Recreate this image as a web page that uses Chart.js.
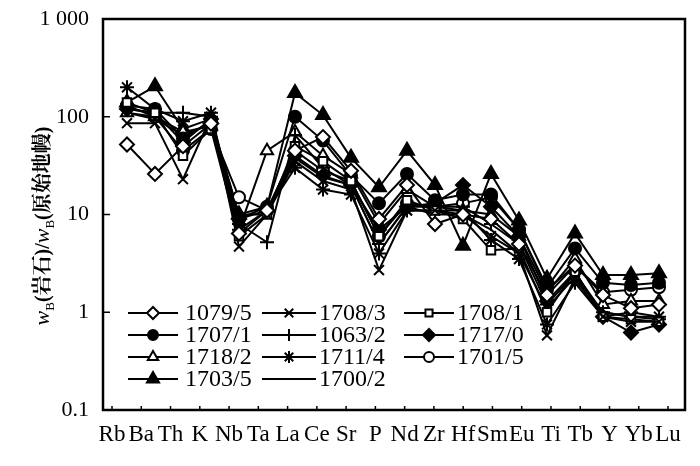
<!DOCTYPE html>
<html><head><meta charset="utf-8">
<script src="https://cdn.jsdelivr.net/npm/chart.js@4/dist/chart.umd.min.js"></script>
<style>html,body{margin:0;padding:0;background:#fff}#wrap{width:700px;height:466px}</style>
</head><body><div id="wrap"><canvas id="c" width="700" height="466"></canvas></div>
<script>
const categories = ['Rb','Ba','Th','K','Nb','Ta','La','Ce','Sr','P','Nd','Zr','Hf','Sm','Eu','Ti','Tb','Y','Yb','Lu'];
const yTickValues = [0.1, 1, 10, 100, 1000];
const yTickLabels = ['0.1', '1', '10', '100', '1 000'];
const seriesNames = ['1079/5','1708/3','1708/1','1707/1','1063/2','1717/0','1718/2','1711/4','1701/5','1703/5','1700/2'];
const s1079_5 = [52, 26, 50, 85, 6.4, 11, 45, 62, 28, 9, 20, 8, 10, 9, 5, 1.5, 3, 1.5, 1.1, 1.2];
const s1708_3 = [86, 86, 23, 100, 4.7, 10, 35, 22, 18, 2.7, 11, 11, 10, 6, 4, 0.58, 2.2, 0.9, 0.8, 0.8];
const s1708_1 = [140, 110, 40, 75, 6, 10, 50, 35, 22, 6, 14, 11, 9, 4.3, 4.5, 1.0, 2.6, 0.9, 0.85, 0.8];
const s1707_1 = [130, 120, 60, 90, 9, 12, 100, 57, 25, 13, 26, 14, 16, 16, 7, 1.8, 4.5, 2.0, 1.9, 2.0];
const s1063_2 = [120, 110, 110, 100, 8, 5.2, 65, 30, 20, 5, 12, 12, 12, 8, 5, 1.2, 2.5, 1.0, 0.9, 0.85];
const s1717_0 = [120, 110, 55, 95, 9, 11, 40, 25, 20, 7, 12, 13, 20, 12, 6, 1.3, 2.6, 0.9, 0.62, 0.75];
const s1718_2 = [110, 100, 70, 80, 7, 45, 70, 40, 26, 8, 18, 12, 11, 10, 6, 1.6, 3.5, 1.2, 1.3, 1.3];
const s1711_4 = [200, 120, 90, 110, 7, 11, 30, 18, 16, 4, 11, 11, 11, 5.5, 3.5, 0.75, 2, 0.9, 1.0, 0.9];
const s1701_5 = [130, 100, 45, 75, 15, 11, 45, 28, 22, 6, 13, 12, 13, 15, 7, 1.7, 3, 1.6, 1.7, 1.8];
const s1703_5 = [140, 205, 75, 95, 10, 12, 175, 104, 38, 19, 45, 20, 4.8, 26, 8.7, 2.2, 6.4, 2.4, 2.4, 2.5];
const s1700_2 = [110, 95, 65, 85, 10, 10, 38, 24, 20, 5, 12, 10, 10, 7, 4, 1.1, 2.3, 1.0, 0.9, 0.9];
const seriesValues = [s1079_5, s1708_3, s1708_1, s1707_1, s1063_2, s1717_0, s1718_2, s1711_4, s1701_5, s1703_5, s1700_2];

const styles = [
  {ps:'rectRot', fill:'#fff', r:7},
  {ps:'crossRot', fill:'#000', r:7},
  {ps:'rect', fill:'#fff', r:6},
  {ps:'circle', fill:'#000', r:6},
  {ps:'cross', fill:'#000', r:7},
  {ps:'rectRot', fill:'#000', r:7},
  {ps:'triangle', fill:'#fff', r:7},
  {ps:'star', fill:'#000', r:7},
  {ps:'circle', fill:'#fff', r:6},
  {ps:'triangle', fill:'#000', r:8},
  {ps:false, fill:'#000', r:0}
];

const datasets = seriesNames.map((n, k) => ({
  label: n,
  data: seriesValues[k].map((v, i) => ({x: i, y: v})),
  xAxisID: 'x', yAxisID: 'y',
  borderColor: '#000', borderWidth: 2,
  backgroundColor: styles[k].fill,
  pointStyle: styles[k].ps,
  pointRadius: styles[k].r,
  pointBorderColor: '#000',
  pointBackgroundColor: styles[k].fill,
  pointBorderWidth: 2,
  tension: 0
}));

const SERIF = "'Liberation Serif', 'Times New Roman', serif";

const framePlugin = {
  id: 'frame',
  afterDraw(chart) {
    const {ctx, chartArea: a} = chart;
    ctx.save();
    ctx.strokeStyle = '#000';
    ctx.lineWidth = 2.5;
    ctx.strokeRect(a.left, a.top, a.right - a.left, a.bottom - a.top);
    ctx.lineWidth = 1.5;
    const x2 = chart.scales.x2;
    x2.ticks.forEach(t => {
      const px = x2.getPixelForValue(t.value);
      ctx.beginPath(); ctx.moveTo(px, a.bottom); ctx.lineTo(px, a.bottom - 4); ctx.stroke();
    });
    const y = chart.scales.y;
    yTickValues.forEach(v => {
      const py = y.getPixelForValue(v);
      ctx.beginPath(); ctx.moveTo(a.left, py); ctx.lineTo(a.left + 7, py); ctx.stroke();
    });
    ctx.restore();
  }
};

const legendPlugin = {
  id: 'customLegend',
  afterDatasetsDraw(chart) {
    const {ctx} = chart;
    const cols = [{l0:128, l1:178, tx:185}, {l0:262, l1:316, tx:319}, {l0:404, l1:454, tx:457}];
    const rows = [313, 335, 357, 379];
    ctx.save();
    chart.data.datasets.forEach((ds, k) => {
      const c = cols[k % 3], y = rows[Math.floor(k / 3)];
      ctx.strokeStyle = '#000'; ctx.lineWidth = 2;
      ctx.beginPath(); ctx.moveTo(c.l0, y); ctx.lineTo(c.l1, y); ctx.stroke();
      if (ds.pointStyle) {
        ctx.fillStyle = ds.pointBackgroundColor; ctx.strokeStyle = '#000'; ctx.lineWidth = 2;
        Chart.helpers.drawPoint(ctx, {pointStyle: ds.pointStyle, radius: ds.pointRadius - 1, rotation: 0, borderWidth: 2}, (c.l0 + c.l1) / 2, y);
      }
      ctx.fillStyle = '#000';
      ctx.font = '24px ' + SERIF;
      ctx.textBaseline = 'middle'; ctx.textAlign = 'left';
      ctx.fillText(ds.label, c.tx, y + 1);
    });
    ctx.restore();
  }
};

const yTitlePlugin = {
  id: 'yTitle',
  afterDraw(chart) {
    const {ctx} = chart;
    const cjk = "bold 20px 'Liberation Serif', 'Noto Serif CJK SC', 'Noto Sans CJK SC', serif";
    const segs = [
      {t:'w', f:'italic 22px ' + SERIF, dy:0},
      {t:'B', f:'13px ' + SERIF, dy:5},
      {t:'(岩石)/', f:cjk, dy:0},
      {t:'w', f:'italic 22px ' + SERIF, dy:0},
      {t:'B', f:'13px ' + SERIF, dy:5},
      {t:'(原始地幔)', f:cjk, dy:0}
    ];
    ctx.save();
    let total = 0;
    segs.forEach(s => { ctx.font = s.f; s.w = ctx.measureText(s.t).width; total += s.w; });
    ctx.translate(42, 226);
    ctx.rotate(-Math.PI / 2);
    ctx.fillStyle = '#000';
    ctx.textBaseline = 'alphabetic'; ctx.textAlign = 'left';
    let x = -total / 2;
    segs.forEach(s => { ctx.font = s.f; ctx.fillText(s.t, x, 7 + s.dy); x += s.w; });
    ctx.restore();
  }
};

new Chart(document.getElementById('c'), {
  type: 'line',
  data: {datasets},
  plugins: [framePlugin, legendPlugin, yTitlePlugin],
  options: {
    responsive: false,
    animation: false,
    events: [],
    layout: {padding: {top: 19, right: 15, left: 0, bottom: 0}},
    plugins: {legend: {display: false}, tooltip: {enabled: false}},
    scales: {
      x: {type: 'linear', min: -0.857, max: 19.929, display: false},
      x2: {
        type: 'linear', position: 'bottom', min: -0.3076, max: 19.58,
        afterBuildTicks: s => { s.ticks = categories.map((c, i) => ({value: i})); },
        afterFit: s => { s.height = 56; s.paddingLeft = 0; s.paddingRight = 0; },
        ticks: {callback: v => categories[v], autoSkip: false, maxRotation: 0, minRotation: 0,
                font: {family: SERIF, size: 23}, color: '#000', padding: 11},
        grid: {display: false, drawTicks: false},
        border: {display: false}
      },
      y: {
        type: 'logarithmic', min: 0.1, max: 1000,
        afterBuildTicks: s => { s.ticks = yTickValues.map(v => ({value: v})); },
        afterFit: s => { s.width = 103; s.paddingTop = 0; s.paddingBottom = 0; },
        ticks: {callback: v => yTickLabels[yTickValues.indexOf(v)], font: {family: SERIF, size: 22}, color: '#000', padding: 14, autoSkip: false},
        grid: {display: false, drawTicks: false},
        border: {display: false}
      }
    }
  }
});
</script></body></html>
